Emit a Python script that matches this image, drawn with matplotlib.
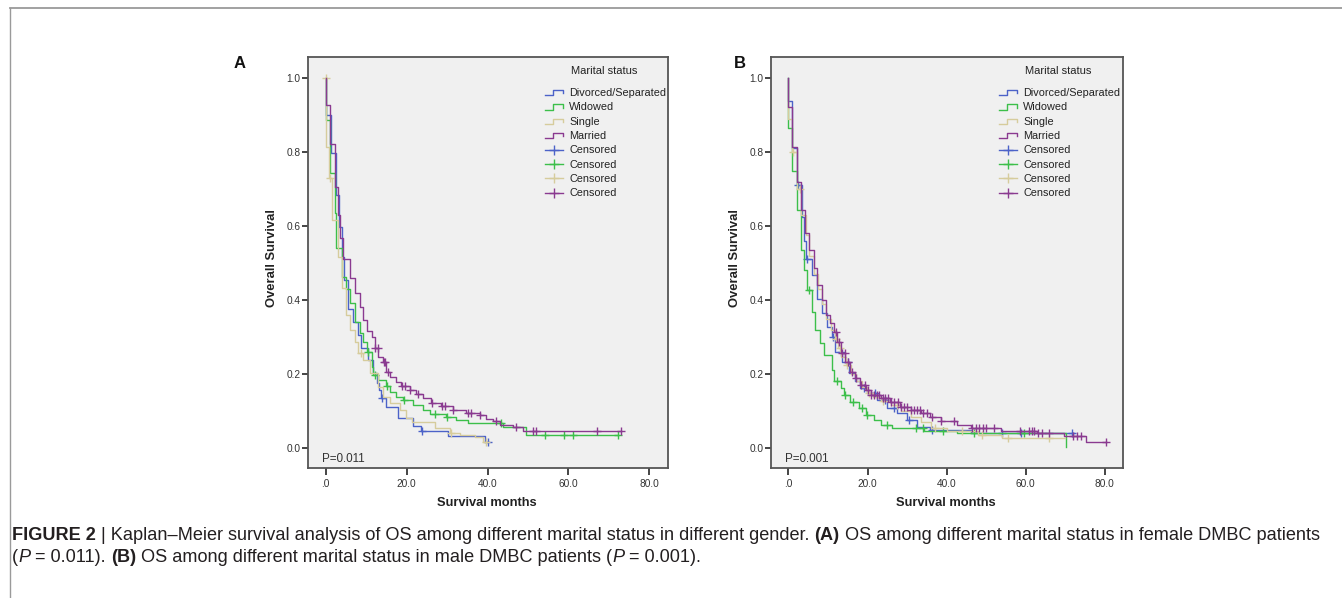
import numpy as np
import matplotlib
matplotlib.use("Agg")
import matplotlib.pyplot as plt
from matplotlib.lines import Line2D
from matplotlib.legend_handler import HandlerBase

# ---------------- data ----------------
groups = ["Divorced/Separated", "Widowed", "Single", "Married"]
colors = ["#4c62c8", "#3cbf4a", "#d6cc9c", "#8a3a90"]

# Panel A (female)
A_div_t = [0, 0, 1.4, 2.6, 3.2, 3.9, 4.4, 5.5, 6.7, 8.0, 8.8, 10.4, 11.7, 12.7, 13.2, 13.7, 15.0, 17.8, 21.5, 23.5, 30.1, 39.3, 40.1]
A_div_s = [1.0, 0.90, 0.797, 0.684, 0.598, 0.517, 0.454, 0.377, 0.342, 0.305, 0.27, 0.238, 0.202, 0.175, 0.157, 0.134, 0.112, 0.080, 0.060, 0.047, 0.032, 0.015, 0.015]
A_div_c = [14.0, 23.9, 40.1]

A_wid_t = [0, 0, 1.0, 2.2, 2.6, 3.9, 5.1, 5.9, 7.2, 8.4, 9.2, 10.2, 11.3, 11.7, 12.9, 15.0, 15.8, 17.4, 19.1, 21.6, 24.0, 25.7, 29.8, 32.3, 35.1, 43.8, 49.5, 72.2]
A_wid_s = [1.0, 0.886, 0.743, 0.635, 0.54, 0.463, 0.429, 0.391, 0.342, 0.31, 0.287, 0.26, 0.22, 0.197, 0.184, 0.167, 0.152, 0.138, 0.130, 0.116, 0.103, 0.091, 0.085, 0.076, 0.067, 0.058, 0.036, 0.036]
A_wid_c = [10.5, 12.1, 15.2, 19.3, 26.9, 30.0, 43.2, 54.1, 59.0, 61.1, 72.2]

A_sin_t = [0, 0.1, 0.9, 1.6, 3.0, 4.1, 5.1, 5.9, 7.2, 8.0, 9.2, 10.9, 12.9, 14.2, 15.8, 18.3, 19.9, 21.2, 26.9, 30.6, 33.1, 36.8, 38.8, 39.6]
A_sin_s = [1.0, 0.815, 0.73, 0.616, 0.517, 0.432, 0.36, 0.319, 0.287, 0.256, 0.238, 0.202, 0.166, 0.139, 0.121, 0.103, 0.080, 0.071, 0.053, 0.040, 0.036, 0.030, 0.017, 0.017]
A_sin_c = [0.0, 1.1, 8.8, 31.0, 39.6]

A_mar_t = [0, 0, 1.0, 2.2, 3.0, 3.6, 4.3, 5.9, 7.2, 8.4, 9.2, 10.3, 11.3, 12.1, 12.9, 14.2, 15.0, 15.8, 17.4, 18.7, 20.7, 22.4, 24.0, 26.1, 28.6, 31.4, 34.7, 38.0, 39.7, 41.3, 43.0, 46.3, 48.7, 73.0]
A_mar_s = [1.0, 0.927, 0.823, 0.706, 0.63, 0.567, 0.512, 0.46, 0.418, 0.382, 0.346, 0.315, 0.30, 0.27, 0.247, 0.233, 0.206, 0.193, 0.179, 0.167, 0.158, 0.147, 0.134, 0.122, 0.113, 0.102, 0.096, 0.089, 0.078, 0.073, 0.062, 0.056, 0.047, 0.047]
A_mar_c = [12.2, 12.8, 14.3, 14.7, 15.3, 18.9, 19.5, 20.8, 22.8, 26.2, 28.8, 29.4, 31.5, 35.1, 36.0, 38.1, 42.1, 47.1, 51.2, 52.0, 67.1, 73.0]

# Panel B (male)
B_div_t = [0, 0, 1.0, 2.1, 3.5, 4.0, 4.5, 6.0, 7.3, 8.5, 9.8, 11.1, 11.9, 13.6, 15.3, 16.9, 18.2, 19.9, 22.4, 25.0, 27.5, 30.0, 32.6, 35.9, 46.1, 72.2]
B_div_s = [1.0, 0.937, 0.81, 0.71, 0.625, 0.56, 0.51, 0.467, 0.404, 0.364, 0.328, 0.301, 0.26, 0.233, 0.202, 0.180, 0.162, 0.148, 0.130, 0.107, 0.094, 0.076, 0.058, 0.049, 0.040, 0.040]
B_div_c = [2.4, 4.7, 11.3, 13.2, 15.0, 19.0, 22.0, 24.5, 26.6, 30.5, 36.4, 54.1, 58.7, 71.8]

B_wid_t = [0, 0, 1.0, 2.2, 3.2, 3.9, 4.6, 6.0, 6.8, 8.1, 8.9, 11.1, 11.5, 13.2, 14.0, 15.7, 17.8, 19.5, 21.6, 23.3, 26.2, 34.3, 42.7, 70.1, 70.1]
B_wid_s = [1.0, 0.866, 0.75, 0.643, 0.535, 0.48, 0.427, 0.368, 0.319, 0.283, 0.251, 0.211, 0.180, 0.162, 0.143, 0.125, 0.107, 0.089, 0.076, 0.062, 0.053, 0.047, 0.040, 0.040, 0.003]
B_wid_c = [5.1, 12.3, 14.4, 16.4, 18.6, 19.9, 25.0, 32.2, 34.1, 39.0, 47.0, 59.6]

B_sin_t = [0, 0, 1.0, 2.1, 3.3, 4.4, 5.3, 6.5, 7.5, 8.6, 9.5, 10.8, 11.7, 12.5, 13.4, 14.6, 15.9, 17.1, 18.5, 19.8, 21.5, 23.5, 26.0, 28.5, 31.0, 33.5, 36.0, 40.0, 48.0, 54.0, 70.0]
B_sin_s = [1.0, 0.89, 0.80, 0.70, 0.63, 0.575, 0.52, 0.47, 0.43, 0.39, 0.35, 0.32, 0.295, 0.27, 0.245, 0.225, 0.20, 0.18, 0.165, 0.15, 0.138, 0.127, 0.115, 0.10, 0.085, 0.07, 0.055, 0.045, 0.035, 0.028, 0.028]
B_sin_c = [1.2, 3.0, 12.0, 13.0, 14.8, 20.5, 24.0, 27.5, 37.0, 44.0, 49.0, 55.5, 66.0]

B_mar_t = [0, 0, 1.0, 2.1, 3.1, 4.3, 5.1, 6.4, 7.3, 8.5, 9.4, 10.6, 11.5, 12.3, 13.2, 14.4, 15.7, 16.9, 18.2, 19.5, 20.8, 23.3, 25.8, 28.3, 30.9, 33.4, 35.9, 38.5, 42.7, 46.1, 53.7, 62.9, 69.7, 75.2, 80.3]
B_mar_s = [1.0, 0.922, 0.815, 0.72, 0.643, 0.58, 0.535, 0.486, 0.44, 0.40, 0.359, 0.337, 0.314, 0.287, 0.256, 0.233, 0.206, 0.188, 0.170, 0.157, 0.143, 0.134, 0.125, 0.112, 0.103, 0.094, 0.083, 0.074, 0.062, 0.053, 0.047, 0.040, 0.033, 0.015, 0.015]
B_mar_c = [12.0, 12.8, 13.5, 14.2, 15.0, 16.1, 17.0, 18.4, 19.3, 20.0, 20.8, 21.6, 22.3, 23.0, 23.8, 24.5, 25.2, 26.0, 26.8, 27.8, 28.5, 29.3, 30.0, 31.0, 31.8, 32.5, 33.3, 34.0, 35.0, 36.3, 38.5, 41.8, 46.5, 47.5, 48.3, 49.2, 50.0, 52.0, 58.5, 60.8, 61.5, 62.2, 63.0, 64.0, 66.0, 71.9, 73.0, 74.0, 80.3]

panel_letters = ["A", "B"]
p_texts = ["P=0.011", "P=0.001"]
xticks = [0, 20, 40, 60, 80]
xtick_labels = [".0", "20.0", "40.0", "60.0", "80.0"]
yticks = [0.0, 0.2, 0.4, 0.6, 0.8, 1.0]
ytick_labels = ["0.0", "0.2", "0.4", "0.6", "0.8", "1.0"]
legend_title = "Marital status"
xlabel = "Survival months"
ylabel = "Overall Survival"

panels = [
    [(A_div_t, A_div_s, A_div_c), (A_wid_t, A_wid_s, A_wid_c), (A_sin_t, A_sin_s, A_sin_c), (A_mar_t, A_mar_s, A_mar_c)],
    [(B_div_t, B_div_s, B_div_c), (B_wid_t, B_wid_s, B_wid_c), (B_sin_t, B_sin_s, B_sin_c), (B_mar_t, B_mar_s, B_mar_c)],
]

# ---------------- layout ----------------
W, H = 1342, 598
fig = plt.figure(figsize=(W / 100, H / 100), dpi=100)
fig.patch.set_facecolor("white")
FONT = "Liberation Sans"


def fx(px):
    return px / W


def fy(py):
    return 1 - py / H


# frame lines
fig.add_artist(Line2D([fx(10), 1.0], [fy(8), fy(8)], color="#9a9a9a", lw=1.3))
fig.add_artist(Line2D([fx(10), fx(10)], [fy(8), 0.0], color="#9a9a9a", lw=1.0))

axes_px = [(308, 668, 57, 468), (771, 1123, 57, 468)]
letter_px = [(240, 63), (740, 63)]
ylabel_x = [272, 735]
legend_px = [(545, 88), (999, 88)]
title_px = [(604, 71), (1058, 71)]


class StepHandler(HandlerBase):
    def create_artists(self, legend, orig_handle, xdescent, ydescent,
                       width, height, fontsize, trans):
        x0, y0 = -xdescent, -ydescent
        xm = x0 + 0.45 * width
        xs = [x0, xm, xm, x0 + width, x0 + width]
        ys = [y0 + 0.1 * height, y0 + 0.1 * height, y0 + 0.8 * height,
              y0 + 0.8 * height, y0 + 0.35 * height]
        ln = Line2D(xs, ys, color=orig_handle.get_color(), lw=1.0)
        ln.set_transform(trans)
        return [ln]


def surv_at(t_arr, s_arr, tc):
    t_arr = np.asarray(t_arr)
    s_arr = np.asarray(s_arr)
    idx = np.searchsorted(t_arr, tc, side="right") - 1
    return s_arr[np.clip(idx, 0, len(s_arr) - 1)]


for k, (l, r, t, b) in enumerate(axes_px):
    ax = fig.add_axes([fx(l), fy(b), fx(r - l), (b - t) / H])
    ax.set_facecolor("#f0f0f0")
    for i, (tt, ss, cc) in enumerate(panels[k]):
        ax.step(tt, ss, where="post", color=colors[i], lw=1.0, zorder=2 + (i == 3))
        ax.plot(cc, surv_at(tt, ss, cc), ls="none", marker="+", ms=6, mew=1.0,
                color=colors[i], zorder=2 + (i == 3))
    ax.set_xlim(-4.4, 84.6)
    ax.set_ylim(-0.054, 1.057)
    ax.set_xticks(xticks)
    ax.set_xticklabels(xtick_labels)
    ax.set_yticks(yticks)
    ax.set_yticklabels(ytick_labels)
    ax.tick_params(axis="x", length=5, width=1.4, color="#444", pad=3,
                   labelsize=7.3, labelcolor="#333")
    ax.tick_params(axis="y", length=4, width=1.4, color="#444", pad=1.5,
                   labelsize=7.3, labelcolor="#333")
    for lab in ax.get_xticklabels() + ax.get_yticklabels():
        lab.set_fontfamily(FONT)
    for sp in ax.spines.values():
        sp.set_color("#555555")
        sp.set_linewidth(1.3)
    ax.text(0.04, 0.008, p_texts[k], transform=ax.transAxes, fontsize=8.4,
            family=FONT, color="#333", ha="left", va="bottom")

    # legend
    step_h = [Line2D([], [], color=c) for c in colors]
    cens_h = [Line2D([0], [0], color=c, marker="+", ms=7, mew=1.0, lw=1.0) for c in colors]
    hmap = {h: StepHandler() for h in step_h}
    leg = fig.legend(step_h + cens_h, groups + ["Censored"] * 4,
                     loc="upper left",
                     bbox_to_anchor=(fx(legend_px[k][0]), fy(legend_px[k][1])),
                     bbox_transform=fig.transFigure, frameon=False,
                     handler_map=hmap, numpoints=1, handlelength=1.7,
                     handletextpad=0.55, labelspacing=0.40, borderaxespad=0.0,
                     borderpad=0.0, prop={"family": FONT, "size": 7.8})
    for txt in leg.get_texts():
        txt.set_color("#222")
    fig.text(fx(title_px[k][0]), fy(title_px[k][1]), legend_title, ha="center",
             va="center", fontsize=8.0, family=FONT, color="#222")

    # axis labels
    fig.text(fx(ylabel_x[k]), fy(258), ylabel, rotation=90,
             ha="center", va="center", fontsize=9.4, fontweight="bold",
             family=FONT, color="#222")
    fig.text(fx((l + r) / 2 - 1), fy(503), xlabel, ha="center", va="center",
             fontsize=9.3, fontweight="bold", family=FONT, color="#222")
    fig.text(fx(letter_px[k][0]), fy(letter_px[k][1]), panel_letters[k],
             ha="center", va="center", fontsize=12, fontweight="bold",
             family=FONT, color="#111")

# ---------------- caption ----------------
line1 = [("FIGURE 2", "bold", "normal"),
         (" | Kaplan\u2013Meier survival analysis of OS among different marital status in different gender. ", "normal", "normal"),
         ("(A)", "bold", "normal"),
         (" OS among different marital status in female DMBC patients", "normal", "normal")]
line2 = [("(", "normal", "normal"), ("P", "normal", "italic"), (" = 0.011). ", "normal", "normal"),
         ("(B)", "bold", "normal"),
         (" OS among different marital status in male DMBC patients (", "normal", "normal"),
         ("P", "normal", "italic"), (" = 0.001).", "normal", "normal")]

renderer = fig.canvas.get_renderer()


def draw_line(segs, x0, y, size, measure_only=False):
    x = x0
    arts = []
    for s, wgt, sty in segs:
        tx = fig.text(fx(x), fy(y), s, fontsize=size, fontweight=wgt, fontstyle=sty,
                      family=FONT, color="#231f20", ha="left", va="center")
        bb = tx.get_window_extent(renderer=renderer)
        x += bb.width
        arts.append(tx)
    if measure_only:
        for a in arts:
            a.remove()
    return x - x0


base = 10.0
w = draw_line(line1, 12, 535, base, measure_only=True)
size = base * (1311 / w)
draw_line(line1, 12, 535, size)
draw_line(line2, 12, 557, size)

fig.savefig("out.png", dpi=100, facecolor="white")
